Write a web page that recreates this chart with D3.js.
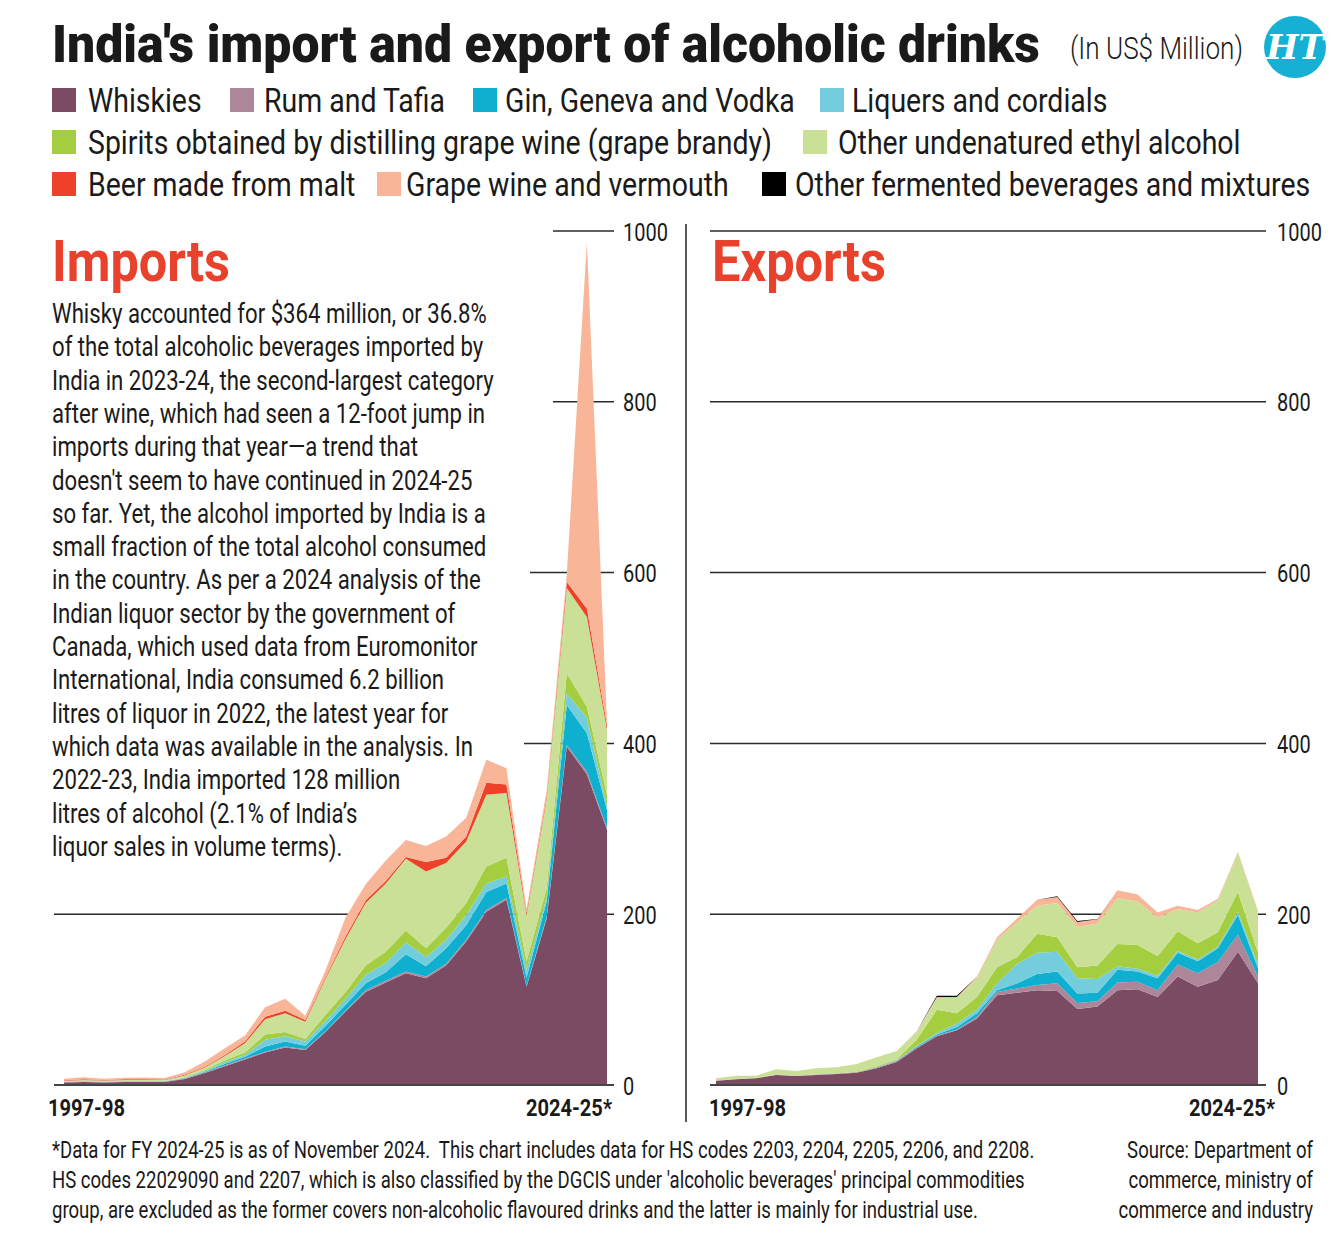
<!DOCTYPE html>
<html><head><meta charset="utf-8">
<script src="https://cdn.jsdelivr.net/npm/d3@7/dist/d3.min.js"></script>
<style>body{margin:0;background:#fff}svg{display:block}</style>
</head><body>
<svg id="c" width="1338" height="1236"></svg>
<script>
// ---------- DATA ----------
const years = ["1997-98","1998-99","1999-00","2000-01","2001-02","2002-03","2003-04","2004-05","2005-06","2006-07","2007-08","2008-09","2009-10","2010-11","2011-12","2012-13","2013-14","2014-15","2015-16","2016-17","2017-18","2018-19","2019-20","2020-21","2021-22","2022-23","2023-24","2024-25*"];
const seriesNames = ["Whiskies","Rum and Tafia","Gin, Geneva and Vodka","Liquers and cordials","Spirits obtained by distilling grape wine (grape brandy)","Other undenatured ethyl alcohol","Beer made from malt","Grape wine and vermouth","Other fermented beverages and mixtures"];
const seriesColors = ["#7b4b64","#ad8799","#0fafcf","#74cddd","#a4cd3f","#c9e096","#ee4129","#f8b598","#000000"];

// Imports (US$ million)
const impWhiskies = [3,3.5,3,3.5,3.5,3.5,7,14,22,30,38,44,41,62,86,109,120,131,125,140,168,203,217,115,195,396,364,299];
const impRum      = [0.3,0.3,0.3,0.3,0.3,0.3,0.5,0.5,1,1,1,1,1,1,1,2,2,2,2,2,2,2,2,1,2,2,3,2];
const impGin      = [0.3,0.3,0.3,0.3,0.3,0.3,0.5,1,2,2,6,6,4,6,7,8,10,20,12,18,17,21,17,10,18,47,45,21];
const impLiqueurs = [0.2,0.2,0.2,0.2,0.2,0.2,0.5,1,2,2,8,6,5,6,7,10,11,14,11,10,12,10,8,9,5,14,18,5];
const impBrandy   = [0.2,0.2,0.2,0.2,0.2,0.2,0.5,1,2,3,6,5,3,7,8,11,13,14,10,14,14,20,22,10,10,23,13,13];
const impEthyl    = [1,1.5,1.2,1.3,1.5,1.3,2,3,5,11,18,22,20,42,62,73,80,84,90,76,72,84,76,54,105,100,105,76];
const impBeer     = [0.7,0.8,0.6,0.8,0.8,0.7,1,1,1,2,3,3,2,2,3,3,3,2,11,6,6,14,10,3,3,7,10,5];
const impWine     = [1.5,2.2,1.4,1.8,2,1.8,3,6,8,7,11,14,5,8,22,19,24,20,19,25,22,27,19,4,7,9,429,4];
const impOther    = [0,0,0,0,0,0,0,0,0,0,0,0,0,0,0,0,0,0,0,0,0,0,0,0,0,0,0,0];

// Exports (US$ million)
const expWhiskies = [5,6.6,7.8,11.7,10.5,11.7,12.9,14.4,19.5,27,43,57,64,78,105,108,111,110,89,92,111,112,103,127,115,123,156,119];
const expRum      = [0.3,0.3,0.3,0.4,0.4,0.5,0.5,0.6,0.8,1,1,1,1,2,4,5,6,9,7,6,9,9,8,14,16,21,20,8];
const expGin      = [0,0,0,0,0,0,0,0,0.3,0.5,1,1,3,4,2,6,13,14,11,10,15,12,14,14,14,16,23,10];
const expLiqueurs = [0,0,0,0,0,0,0,0,0.3,0.5,1,2,4,4,8,23,25,23,18,16,4,3,3,2,2,2,4,4];
const expBrandy   = [0,0,0,0,0,0,0,0.5,1,1,7,27,12,15,19,8,22,17,13,16,26,28,23,23,19,17,23,14];
const expEthyl    = [2.5,4,2.8,6.2,5.5,7.3,7.3,9,10.5,9.8,9,14,18,22,32,41,33,40,47,49,54,51,45,26,36,37,46,48];
const expBeer     = [0,0,0,0,0,0,0,0,0,0,0,0,0,0,0,0,0,0,0,0,0,0,0,0,0,0,0,0];
const expWine     = [0,0,0,0,0,0,0,0,0,0,1,1,1,2,3,4,7,7,6,5,9,8,6,4,3,2,1,1];
const expOther    = [0,0,0,0,0,0,0,0,0,0,0,1.5,1.5,0,0,0,0,1,1,0.5,0,0,0,0,0,0,0,0];

const yTicks = [0,200,400,600,800,1000];
const xEndLabels = ["1997-98","2024-25*"];

const paragraph = [
 "Whisky accounted for $364 million, or 36.8%",
 "of the total alcoholic beverages imported by",
 "India in 2023-24, the second-largest category",
 "after wine, which had seen a 12-foot jump in",
 "imports during that year\u2014a trend that",
 "doesn't seem to have continued in 2024-25",
 "so far. Yet, the alcohol imported by India is a",
 "small fraction of the total alcohol consumed",
 "in the country. As per a 2024 analysis of the",
 "Indian liquor sector by the government of",
 "Canada, which used data from Euromonitor",
 "International, India consumed 6.2 billion",
 "litres of liquor in 2022, the latest year for",
 "which data was available in the analysis. In",
 "2022-23, India imported 128 million",
 "litres of alcohol (2.1% of India\u2019s",
 "liquor sales in volume terms)."
];
const footLeft = [
 "*Data for FY 2024-25 is as of November 2024.  This chart includes data for HS codes 2203, 2204, 2205, 2206, and 2208.",
 "HS codes 22029090 and 2207, which is also classified by the DGCIS under 'alcoholic beverages' principal commodities",
 "group, are excluded as the former covers non-alcoholic flavoured drinks and the latter is mainly for industrial use."
];
const footRight = ["Source: Department of","commerce, ministry of","commerce and industry"];

// ---------- DRAW ----------
const FONT = "Roboto,'Liberation Sans','DejaVu Sans',sans-serif";
const svg = d3.select("#c");
const TXT = "#1a1a1a";

function measure(text, size, weight){
  const t = svg.append("text").attr("font-family",FONT).attr("font-size",size).attr("font-weight",weight||"normal")
    .style("white-space","pre").text(text);
  const w = t.node().getComputedTextLength(); t.remove(); return w;
}
function sxFor(text, size, target, weight){ return target/measure(text,size,weight); }
function put(parent, text, x, y, size, sx, opts){
  opts = opts||{};
  const g = parent.append("g").attr("transform",`translate(${x},${y}) scale(${sx},1)`);
  g.append("text").attr("font-family",FONT).attr("font-size",size).attr("font-weight",opts.weight||"normal")
    .attr("font-style",opts.style||"normal")
    .attr("text-anchor",opts.anchor||"start").attr("fill",opts.fill||TXT).style("white-space","pre").text(text);
  return g;
}

// Title
const tSize = 51;
put(svg, "India's import and export of alcoholic drinks", 52, 62, tSize,
    sxFor("India's import and export of alcoholic drinks", tSize, 988, "900"), {weight:"900"});
put(svg, "(In US$ Million)", 1070, 59, 31, sxFor("(In US$ Million)",31,173,"300"), {weight:"300"});
// HT logo
svg.append("circle").attr("cx",1295).attr("cy",47).attr("r",31).attr("fill","#16b0d5");
svg.append("text").attr("x",1295).attr("y",59).attr("text-anchor","middle").attr("font-family","'DejaVu Serif','Liberation Serif',serif")
  .attr("font-style","italic").attr("font-weight","bold").attr("font-size",34).attr("fill","#fff").text("HT");

// Legend
const lSize = 34;
const lSx = sxFor(seriesNames[4], lSize, 684);
const legendPos = [[52,88,0],[230,264,0],[473,505,0],[820,852,0],[52,88,1],[803,838,1],[52,88,2],[377,406,2],[762,795,2]];
const legend = svg.append("g");
seriesNames.forEach((n,i)=>{
  const [sx,tx,row] = legendPos[i];
  const top = 88 + row*42;
  legend.append("rect").attr("x",sx).attr("y",top).attr("width",24).attr("height",24).attr("fill",seriesColors[i]);
  put(legend, n, tx, top+24, lSize, lSx);
});

function buildRows(arrs){
  return years.map((yr,i)=>{ const o={year:yr}; seriesNames.forEach((n,k)=>o[n]=arrs[k][i]); return o; });
}
const impRows = buildRows([impWhiskies,impRum,impGin,impLiqueurs,impBrandy,impEthyl,impBeer,impWine,impOther]);
const expRows = buildRows([expWhiskies,expRum,expGin,expLiqueurs,expBrandy,expEthyl,expBeer,expWine,expOther]);
const stack = d3.stack().keys(seriesNames);

const y = d3.scaleLinear().domain([0,1000]).range([1085,231]);
const tickSize = 25.5, tickSx = sxFor("1000", 25.5, 45);
const xlSize = 23, xlSx = sxFor("1997-98", 23, 77, "bold");

function panel(rows, x0, x1, gridStarts, axisEnd, labelX, baseStart, lblLeft, lblRight){
  const x = d3.scalePoint().domain(years).range([x0,x1]);
  const g = svg.append("g");
  yTicks.forEach(t=>{
    if(t===0) return;
    g.append("line").attr("x1",gridStarts[t]).attr("x2",axisEnd).attr("y1",y(t)).attr("y2",y(t))
      .attr("stroke","#2a2a2a").attr("stroke-width",1.5);
  });
  const area = d3.area().x(d=>x(d.data.year)).y0(d=>y(d[0])).y1(d=>y(d[1]));
  g.selectAll("path.a").data(stack(rows)).join("path").attr("class","a")
    .attr("d",area).attr("fill",(d,i)=>seriesColors[i]);
  g.append("line").attr("x1",baseStart).attr("x2",axisEnd).attr("y1",y(0)).attr("y2",y(0)).attr("stroke","#444").attr("stroke-width",2);
  const ax = d3.axisRight(y).tickValues(yTicks).tickFormat(d3.format("d")).tickSize(0).tickPadding(0);
  const axg = g.append("g").attr("transform",`translate(${labelX},0)`).call(ax);
  axg.select(".domain").remove();
  axg.selectAll("text").attr("font-family",FONT).attr("font-size",tickSize).attr("fill",TXT)
    .attr("x",0).attr("dy","0.36em").attr("transform",`scale(${tickSx},1)`);
  put(g, xEndLabels[0], lblLeft, 1116, xlSize, xlSx, {weight:"bold"});
  put(g, xEndLabels[1], lblRight, 1116, xlSize, xlSx, {weight:"bold", anchor:"end"});
}

panel(impRows, 64, 607, {200:54,400:524,600:530,800:553,1000:553}, 614, 623, 54, 48, 612);
panel(expRows, 716, 1258, {200:710,400:710,600:710,800:710,1000:710}, 1266, 1277, 710, 709, 1275);

// divider
svg.append("line").attr("x1",686).attr("x2",686).attr("y1",224).attr("y2",1122).attr("stroke","#222").attr("stroke-width",1.5);

// Panel titles
const RED = "#e8412c";
const hSize = 57;
put(svg, "Imports", 52, 281, hSize, sxFor("Imports",hSize,178,"bold"), {weight:"bold", fill:RED});
put(svg, "Exports", 712, 281, hSize, sxFor("Exports",hSize,174,"bold"), {weight:"bold", fill:RED});

// Paragraph
const pSize = 27.5;
const pSx = sxFor(paragraph[0], pSize, 435);
const pg = svg.append("g");
paragraph.forEach((l,i)=> put(pg, l, 52, 323 + i*33.3, pSize, pSx));

// Footnotes
const fSize = 24;
const fSx = sxFor(footLeft[0], fSize, 983);
footLeft.forEach((l,i)=> put(svg, l, 52, 1158 + i*30, fSize, fSx));
footRight.forEach((l,i)=> put(svg, l, 1313, 1158 + i*30, fSize, fSx, {anchor:"end"}));
</script>
</body></html>
